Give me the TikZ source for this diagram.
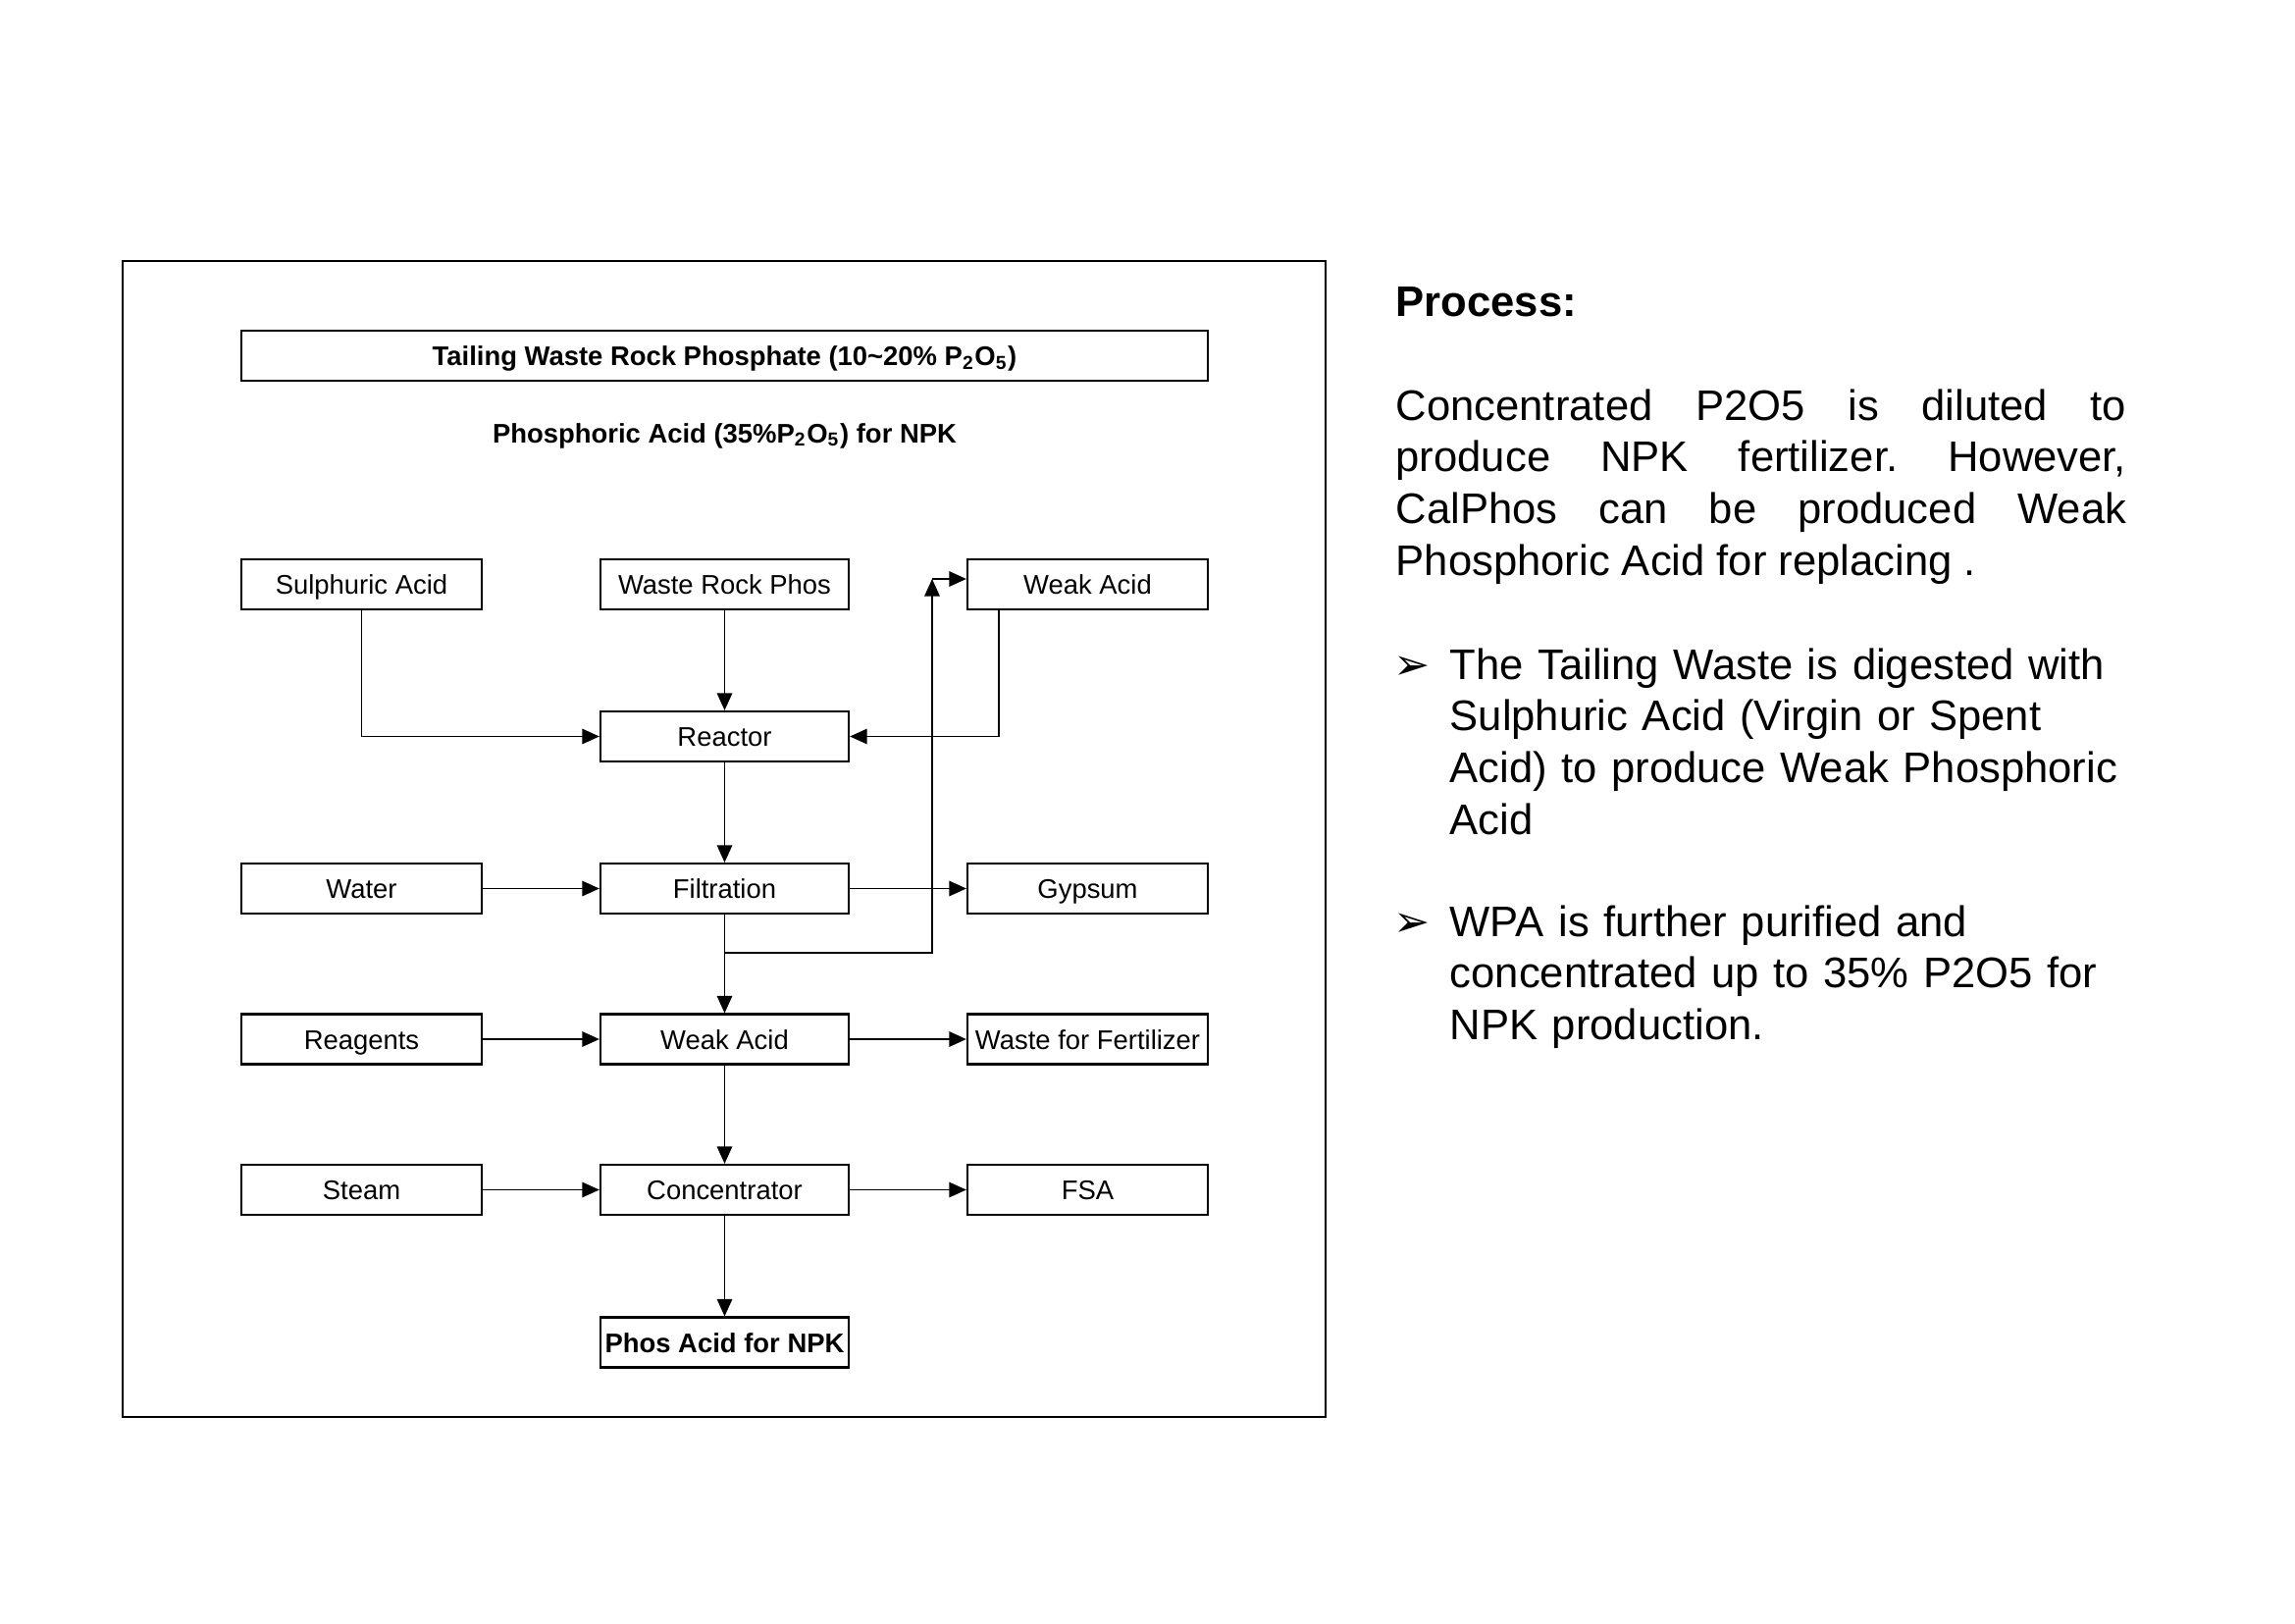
\documentclass[tikz,border=0pt]{standalone}
\usepackage{fontspec}
\setmainfont{Liberation Sans}
\newfontfamily\dingfont{DejaVu Sans}
\usetikzlibrary{arrows.meta,calc}

\tikzset{
  unit/.style={draw, line width=0.6pt, minimum width=2.45cm, minimum height=0.51cm,
    inner sep=0pt, text height=5.7pt, text depth=0pt, font=\fontsize{7.8}{9}\selectfont},
  mainunit/.style={unit, minimum width=2.53cm},
  flow/.style={-{Triangle[length=5pt,width=4.4pt]}, line width=0.5pt},
  body/.style={inner sep=0pt, font=\fontsize{12.4}{15}\selectfont}
}

\begin{document}
\frenchspacing
\begin{tikzpicture}[x=0.01cm,y=-0.01cm]
\useasboundingbox (0,0) rectangle (2339,1654);

% Frame round the flow sheet
\draw[line width=0.7pt] (125,266) rectangle (1351,1444);

% Title lines
\node[unit, minimum width=9.85cm, font=\fontsize{7.8}{9}\selectfont\bfseries] (title) at (738.5,362.5)
  {Tailing Waste Rock Phosphate (10\textasciitilde20\% P\textsubscript{2}O\textsubscript{5})};
\node[inner sep=0pt, text height=5.7pt, text depth=0pt, font=\fontsize{7.8}{9}\selectfont\bfseries] (subtitle) at (738.5,441)
  {Phosphoric Acid (35\%P\textsubscript{2}O\textsubscript{5}) for NPK};

% Units
\node[unit]     (sulph)    at (368.5,595.5)  {Sulphuric Acid};
\node[mainunit] (rock)     at (738.5,595.5)  {Waste Rock Phos};
\node[unit]     (weakin)   at (1108.5,595.5) {Weak Acid};
\node[mainunit] (reactor)  at (738.5,750.5)  {Reactor};
\node[unit]     (water)    at (368.5,905.5)  {Water};
\node[mainunit] (filt)     at (738.5,905.5)  {Filtration};
\node[unit]     (gypsum)   at (1108.5,905.5) {Gypsum};
\node[unit]     (reagents) at (368.5,1059)   {Reagents};
\node[mainunit] (weak)     at (738.5,1059)   {Weak Acid};
\node[unit]     (waste)    at (1108.5,1059)  {Waste for Fertilizer};
\node[unit]     (steam)    at (368.5,1212.5) {Steam};
\node[mainunit] (conc)     at (738.5,1212.5) {Concentrator};
\node[unit]     (fsa)      at (1108.5,1212.5){FSA};
\node[mainunit, font=\fontsize{7.8}{9}\selectfont\bfseries] (npk) at (738.5,1368) {Phos Acid for NPK};

% Main line
\foreach \a/\b in {rock/reactor, reactor/filt, filt/weak, weak/conc, conc/npk}
  \draw[flow] (\a.south) -- (\b.north);

% Side streams
\foreach \a/\b in {water/filt, filt/gypsum, reagents/weak, weak/waste, steam/conc, conc/fsa}
  \draw[flow] (\a.east) -- (\b.west);

% Feeds to the reactor
\draw[flow] (sulph.south) |- (reactor.west);
\draw[flow] ($(weakin.south west)+(33,0)$) |- (reactor.east);

% Weak acid recycle
\coordinate (split) at (738.5,971);
\coordinate (riser) at (950,590);
\draw[flow] (split) -| (riser);
\draw[flow] (riser) -- (riser -| weakin.west);

% Process notes
\node[body, anchor=west, font=\fontsize{12.4}{15}\selectfont\bfseries] (head) at (1422,308) {Process:};
\node[body, anchor=base west, text width=7.44cm, align=justify] (note) at (1422,428)
  {Concentrated P2O5 is diluted to\linebreak produce NPK fertilizer. However,\linebreak
   CalPhos can be produced Weak\linebreak Phosphoric Acid for replacing .};

\node[body, anchor=base west, font=\dingfont\fontsize{12.6}{15}\selectfont] (mark1) at (1420,692) {➢};
\node[body, anchor=base west, text width=7.2cm, align=left] (item1) at (1477,692)
  {The Tailing Waste is digested with\\Sulphuric Acid (Virgin or Spent\\Acid) to produce Weak Phosphoric\\Acid};
\node[body, anchor=base west, font=\dingfont\fontsize{12.6}{15}\selectfont] (mark2) at (1420,954) {➢};
\node[body, anchor=base west, text width=7.2cm, align=left] (item2) at (1477,954)
  {WPA is further purified and\\concentrated up to 35\% P2O5 for\\NPK production.};

\end{tikzpicture}
\end{document}
